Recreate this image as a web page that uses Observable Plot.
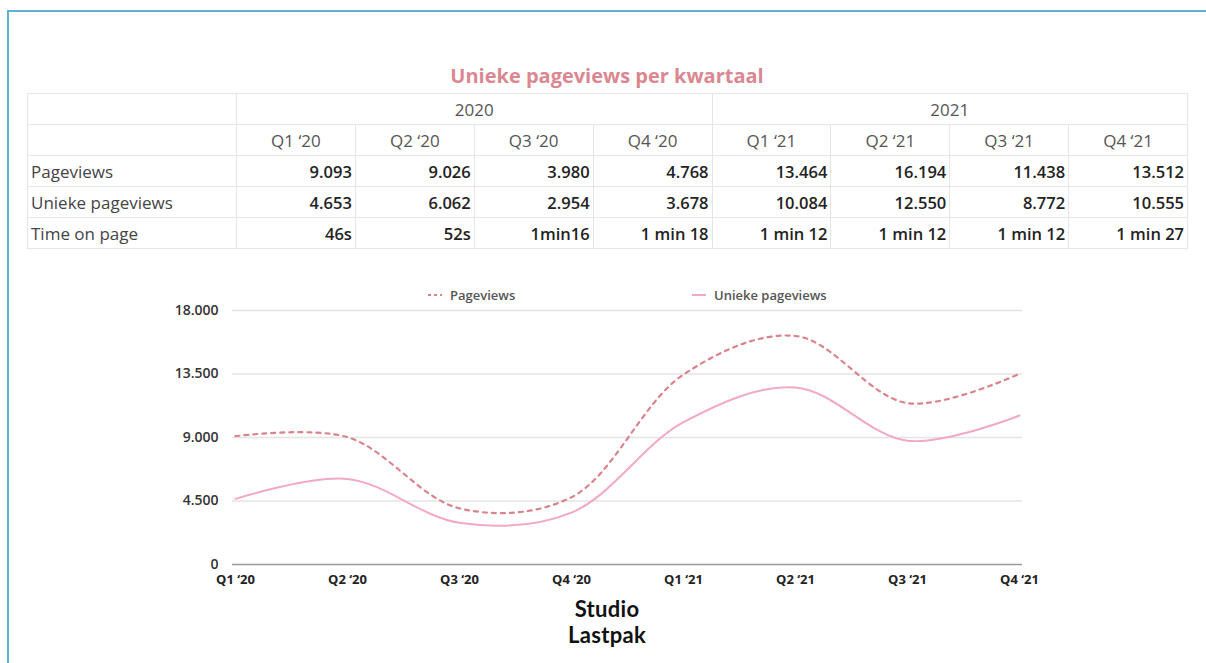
<!DOCTYPE html>
<html>
<head>
<meta charset="utf-8">
<script src="https://cdn.jsdelivr.net/npm/d3@7"></script>
<script src="https://cdn.jsdelivr.net/npm/@observablehq/plot@0.6"></script>
<style>
  html, body { margin: 0; padding: 0; background: #fff; width: 1206px; height: 663px; overflow: hidden; font-family: "Open Sans", sans-serif; }
  #frame { position: absolute; left: 7px; top: 10px; width: 1220px; height: 700px; border-left: 2px solid #5fb0d2; border-top: 2px solid #5fb0d2; box-sizing: border-box; }
  #title { position: absolute; left: 0; width: 1214px; top: 62px; text-align: center; color: #da8791; font-weight: 700; font-size: 20px; }
  table { position: absolute; left: 27px; top: 93px; border-collapse: collapse; table-layout: fixed; width: 1160px; font-size: 17px; }
  td { border: 1.5px solid #e6e6e6; height: 31px; padding: 0 3px; color: #444; white-space: nowrap; box-sizing: border-box; }
  td.c { text-align: center; color: #555; }
  td.v { text-align: right; font-weight: 600; color: #222; font-size: 16.5px; }
  #legend { position: absolute; top: 286px; left: 0; width: 1206px; height: 18px; font-size: 13px; font-weight: 600; color: #555; }
  .li { position: absolute; display: flex; align-items: center; }
  .li svg { margin-right: 8px; }
  #chart { position: absolute; left: 150px; top: 280px; }
  .logo { position: absolute; left: 0; width: 1214px; text-align: center; font-family: Lato, sans-serif; font-weight: 700; font-size: 22px; line-height: 24px; color: #111; letter-spacing: 0.3px; }
</style>
</head>
<body>
<div id="frame"></div>
<div id="title"></div>
<table id="tbl"></table>
<div id="legend"></div>
<div id="chart"></div>
<div class="logo" style="top:597px">Studio</div>
<div class="logo" style="top:623px">Lastpak</div>
<script>
const chartTitle = "Unieke pageviews per kwartaal";
const years = ["2020", "2021"];
const quarters = ["Q1 ‘20", "Q2 ‘20", "Q3 ‘20", "Q4 ‘20", "Q1 ‘21", "Q2 ‘21", "Q3 ‘21", "Q4 ‘21"];
const pageviews = [9093, 9026, 3980, 4768, 13464, 16194, 11438, 13512];
const uniekePageviews = [4653, 6062, 2954, 3678, 10084, 12550, 8772, 10555];
const timeOnPage = ["46s", "52s", "1min16", "1 min 18", "1 min 12", "1 min 12", "1 min 12", "1 min 27"];
const rowLabels = ["Pageviews", "Unieke pageviews", "Time on page"];
const seriesNames = ["Pageviews", "Unieke pageviews"];
const yTicks = [0, 4500, 9000, 13500, 18000];

const colorPV = "#d9838d";
const colorUPV = "#f2aac0";
const fmt = v => d3.format(",")(v).replace(/,/g, ".");

document.getElementById("title").textContent = chartTitle;

// Table
const tbl = document.getElementById("tbl");
let html = "<colgroup><col style='width:209px'>" + quarters.map(() => "<col style='width:118.875px'>").join("") + "</colgroup>";
html += "<tr><td></td>" + years.map(y => `<td class='c' colspan='4'>${y}</td>`).join("") + "</tr>";
html += "<tr><td></td>" + quarters.map(q => `<td class='c'>${q}</td>`).join("") + "</tr>";
const rows = [pageviews.map(fmt), uniekePageviews.map(fmt), timeOnPage];
rows.forEach((r, i) => {
  html += `<tr><td>${rowLabels[i]}</td>` + r.map(v => `<td class='v'>${v}</td>`).join("") + "</tr>";
});
tbl.innerHTML = html;

// Legend
const legend = document.getElementById("legend");
const legendItems = [
  {name: seriesNames[0], color: colorPV, dash: "3,3", left: 428},
  {name: seriesNames[1], color: colorUPV, dash: null, left: 692}
];
legendItems.forEach(it => {
  const d = document.createElement("div");
  d.className = "li";
  d.style.left = it.left + "px";
  d.innerHTML = `<svg width="14" height="18"><line x1="0" x2="14" y1="9" y2="9" stroke="${it.color}" stroke-width="2" ${it.dash ? `stroke-dasharray="${it.dash}"` : ""}/></svg><span>${it.name}</span>`;
  legend.appendChild(d);
});

// Chart
const data = [];
quarters.forEach((q, i) => {
  data.push({q, value: pageviews[i], series: seriesNames[0]});
  data.push({q, value: uniekePageviews[i], series: seriesNames[1]});
});

const plot = Plot.plot({
  width: 900,
  height: 310,
  marginTop: 30,
  marginBottom: 26,
  marginLeft: 82,
  marginRight: 28,
  style: {fontFamily: "'Open Sans', sans-serif", fontSize: "13px", color: "#333", background: "transparent", overflow: "visible"},
  x: {type: "point", domain: quarters, padding: 0, label: null},
  y: {domain: [0, 18000], ticks: yTicks, label: null},
  marks: [
    Plot.gridY(yTicks.filter(t => t > 0), {stroke: "#e4e4e4", strokeOpacity: 1, strokeWidth: 1.5}),
    Plot.ruleY([0], {stroke: "#999", strokeWidth: 1.5}),
    Plot.axisY({ticks: yTicks, tickSize: 0, tickPadding: 14, tickFormat: fmt, fontWeight: 600, fontSize: 14, fill: "#333"}),
    Plot.axisX({tickSize: 0, tickPadding: 10, fontWeight: 700, fontSize: 13, fill: "#222"}),
    Plot.lineY(data.filter(d => d.series === seriesNames[1]), {x: "q", y: "value", stroke: colorUPV, strokeWidth: 2, curve: "catmull-rom"}),
    Plot.lineY(data.filter(d => d.series === seriesNames[0]), {x: "q", y: "value", stroke: colorPV, strokeWidth: 2.2, strokeDasharray: "4,5", curve: "catmull-rom"})
  ]
});
document.getElementById("chart").appendChild(plot);
</script>
</body>
</html>
